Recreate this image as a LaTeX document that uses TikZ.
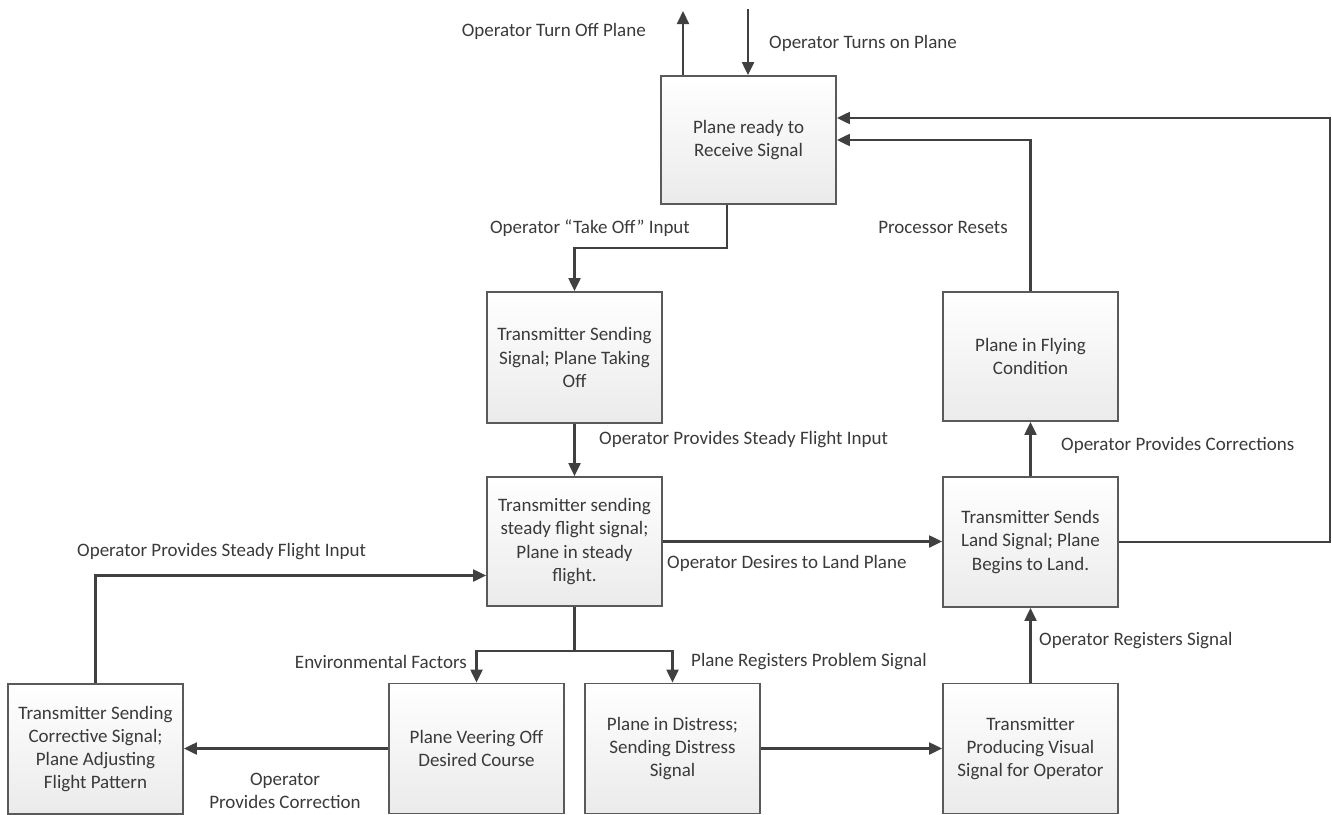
\documentclass[tikz,border=0pt]{standalone}
\usepackage{fontspec}
\setmainfont{Carlito}
\usetikzlibrary{arrows.meta}
\definecolor{linegray}{HTML}{404040}
\definecolor{boxedge}{HTML}{5A5A5A}
\definecolor{txt}{HTML}{3A3A3A}
\begin{document}
\begin{tikzpicture}[x=1pt,y=-1pt,
  font=\fontsize{19}{23.2}\selectfont, text=txt,
  stage/.style={draw=boxedge, line width=1.8pt, top color=white, bottom color=black!8,
    minimum width=175pt, minimum height=130pt, align=center, inner sep=0pt},
  flow/.style={draw=linegray, line width=2.1pt, -{Triangle[width=12pt,length=13pt]}},
  link/.style={draw=linegray, line width=2.1pt},
  lbl/.style={inner sep=0pt}]
\useasboundingbox (0,0) rectangle (1332,814);

% states
\node[stage, minimum height=128pt] (A) at (748.5,140) {Plane ready to\\Receive Signal};
\node[stage, minimum height=131pt] (B) at (574.5,357.5) {Transmitter Sending\\Signal; Plane Taking\\Off};
\node[stage, minimum height=129pt] (C) at (574.5,541.5) {Transmitter sending\\steady flight signal;\\Plane in steady\\flight.};
\node[stage, minimum height=129pt] (E) at (1030.5,356.5) {Plane in Flying\\Condition};
\node[stage] (D) at (1030.5,542) {Transmitter Sends\\Land Signal; Plane\\Begins to Land.};
\node[stage] (F) at (95.5,749) {Transmitter Sending\\Corrective Signal;\\Plane Adjusting\\Flight Pattern};
\node[stage] (G) at (476.5,748.5) {Plane Veering Off\\Desired Course};
\node[stage] (H) at (672.5,748.5) {Plane in Distress;\\Sending Distress\\Signal};
\node[stage] (I) at (1030.5,748.5) {Transmitter\\Producing Visual\\Signal for Operator};

% helper points
\coordinate (offtop) at (683,11);
\coordinate (ontop) at (748,9);
\coordinate (aout) at (727,248);
\coordinate (rc) at (1330,118);
\coordinate (split) at (574.5,651);
\coordinate (cin) at ([yshift=-34pt]C.west);

% connectors
\draw[flow] (A.north -| offtop) -- (offtop);
\draw[flow] (ontop) -- (A.north -| ontop);
\draw[flow] (A.south -| aout) -- (aout) -| (B.north);
\draw[flow] (B) -- (C);
\draw[flow] (C.east) -- (C.east -| D.west);
\draw[flow] (D) -- (E);
\draw[flow] (E.north) |- (A.east);
\draw[flow] (D.east) -| (rc) -- (A.east |- rc);
\draw[link] (C.south) -- (split);
\draw[flow] (split) -| (G.north);
\draw[flow] (split) -| (H.north);
\draw[flow] (G.west) -- (G.west -| F.east);
\draw[flow] (H.east) -- (H.east -| I.west);
\draw[flow] (I) -- (D);
\draw[flow] (F.north) |- (cin);

% transition labels
\node[lbl, anchor=east] (l1) at (646,31) {Operator Turn Off Plane};
\node[lbl, anchor=west] (l2) at (769,43) {Operator Turns on Plane};
\node[lbl] (l3) at (590,228) {Operator “Take Off” Input};
\node[lbl] (l4) at (943,227) {Processor Resets};
\node[lbl, anchor=west] (l5) at (599,440) {Operator Provides Steady Flight Input};
\node[lbl, anchor=west] (l6) at (1061,445) {Operator Provides Corrections};
\node[lbl, anchor=west] (l7) at (667,563) {Operator Desires to Land Plane};
\node[lbl, anchor=west] (l8) at (77,552) {Operator Provides Steady Flight Input};
\node[lbl, anchor=east] (l9) at (467,662) {Environmental Factors};
\node[lbl, anchor=west] (l10) at (691,662) {Plane Registers Problem Signal};
\node[lbl, anchor=west] (l11) at (1039,641) {Operator Registers Signal};
\node[lbl, align=center] (l12) at (285,791) {Operator\\Provides Correction};
\end{tikzpicture}
\end{document}
